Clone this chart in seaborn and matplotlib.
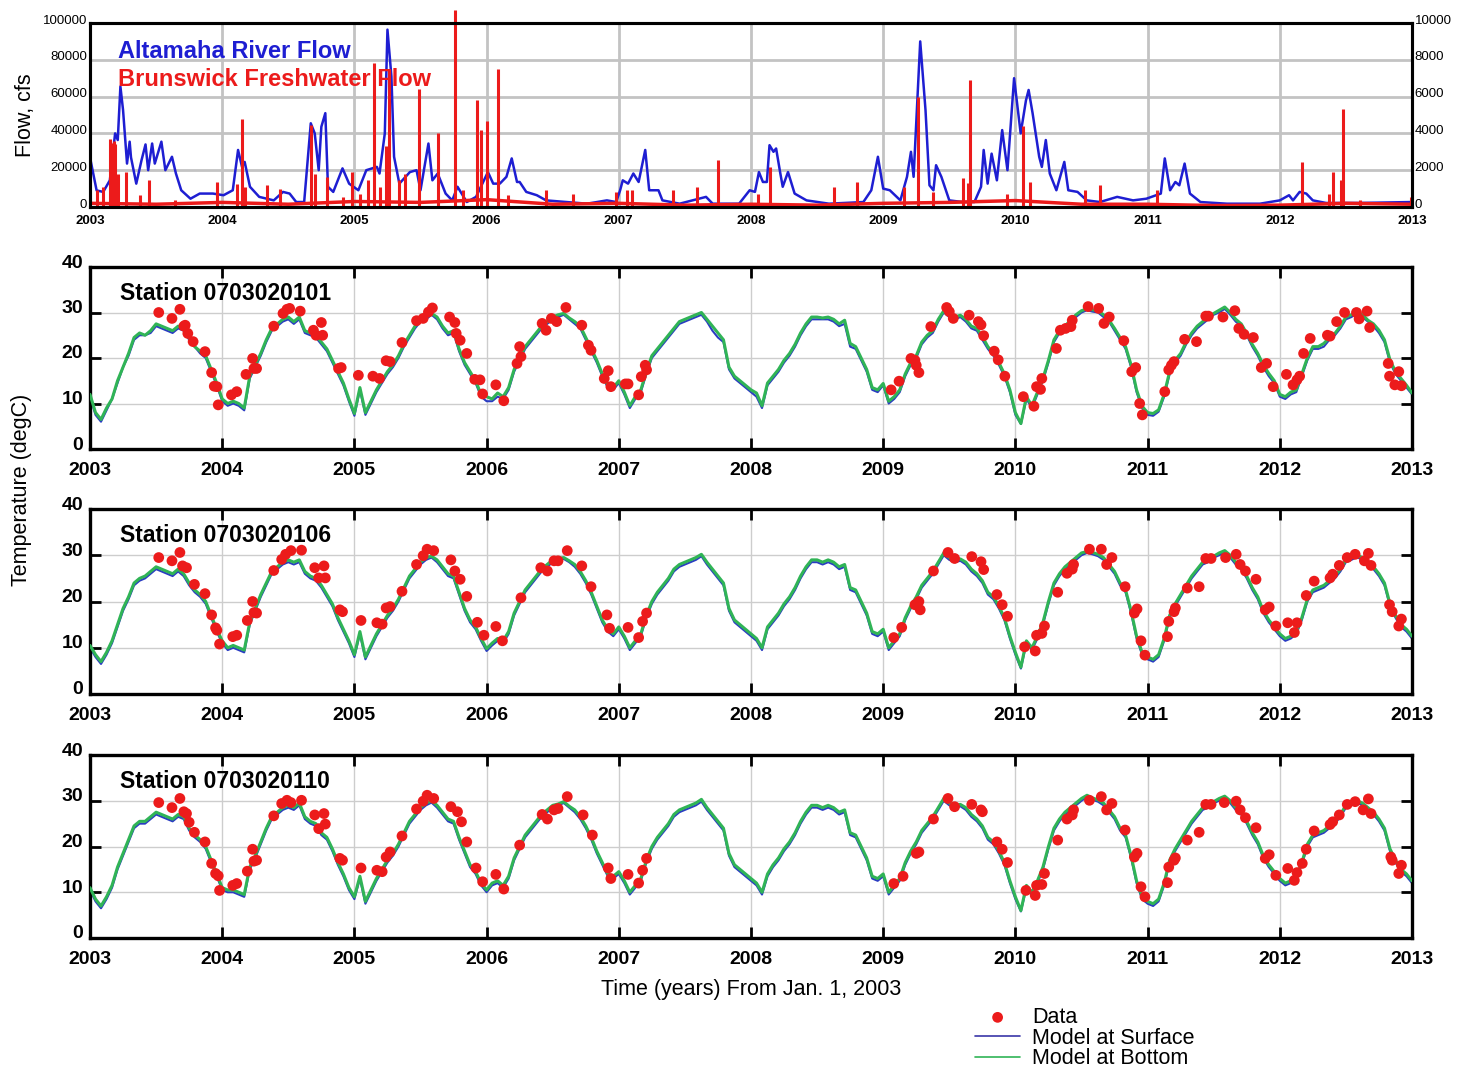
import numpy as np
import matplotlib
matplotlib.use("Agg")
import matplotlib.pyplot as plt
import matplotlib.transforms as mtransforms
import seaborn as sns

# ------------------------------------------------------------------ data
years = list(range(2003, 2014))
flow_ticks = [0, 20000, 40000, 60000, 80000, 100000]
brunswick_ticks = [0, 2000, 4000, 6000, 8000, 10000]
temp_ticks = [0, 10, 20, 30, 40]

# Altamaha River flow (cfs, left axis)
altamaha_dates = [
    2003.00, 2003.05, 2003.10, 2003.15, 2003.19, 2003.21, 2003.23, 2003.25, 2003.28, 2003.30, 2003.31, 2003.35, 2003.39,
    2003.42, 2003.44, 2003.47, 2003.49, 2003.54, 2003.57, 2003.62, 2003.65, 2003.69, 2003.76, 2003.83, 2003.93,
    2004.01, 2004.08, 2004.12, 2004.15, 2004.17, 2004.21, 2004.28, 2004.39, 2004.46, 2004.51, 2004.56, 2004.62, 2004.67,
    2004.70, 2004.73, 2004.75, 2004.78, 2004.80, 2004.84, 2004.91, 2004.96,
    2005.03, 2005.09, 2005.17, 2005.19, 2005.23, 2005.25, 2005.28, 2005.30, 2005.34, 2005.42, 2005.47, 2005.50, 2005.56,
    2005.59, 2005.63, 2005.69, 2005.74, 2005.78, 2005.85, 2005.92,
    2006.01, 2006.05, 2006.10, 2006.15, 2006.19, 2006.23, 2006.25, 2006.30, 2006.38, 2006.45, 2006.60, 2006.76, 2006.91, 2006.98,
    2007.01, 2007.03, 2007.07, 2007.11, 2007.15, 2007.20, 2007.23, 2007.30, 2007.33, 2007.46, 2007.66, 2007.71, 2007.91, 2007.99,
    2008.03, 2008.06, 2008.09, 2008.12, 2008.14, 2008.17, 2008.19, 2008.22, 2008.24, 2008.28, 2008.33, 2008.42, 2008.59,
    2008.85, 2008.91, 2008.96,
    2009.00, 2009.05, 2009.13, 2009.18, 2009.21, 2009.23, 2009.28, 2009.32, 2009.35, 2009.38, 2009.40, 2009.44, 2009.50,
    2009.60, 2009.69, 2009.74, 2009.76, 2009.79, 2009.82, 2009.86, 2009.90, 2009.94, 2009.99,
    2010.04, 2010.08, 2010.10, 2010.13, 2010.18, 2010.20, 2010.23, 2010.26, 2010.31, 2010.37, 2010.40, 2010.47, 2010.54,
    2010.64, 2010.77, 2010.89, 2010.99,
    2011.10, 2011.13, 2011.17, 2011.21, 2011.24, 2011.28, 2011.32, 2011.40, 2011.60, 2011.85,
    2012.00, 2012.07, 2012.10, 2012.15, 2012.20, 2012.25, 2012.35, 2012.60, 2013.00]
altamaha_flow = [
    27000, 9000, 8200, 14500, 40000, 36400, 65500, 52700, 23600, 35500, 27000, 12700, 25500,
    34000, 20000, 34500, 23600, 35500, 20000, 27300, 18200, 9100, 4500, 7300, 7300,
    6400, 9100, 31000, 21800, 24500, 11000, 5500, 3600, 8200, 7300, 2700, 2700, 45500,
    40000, 20000, 43600, 51000, 11000, 8200, 21000, 12700,
    9100, 20000, 21800, 18200, 40000, 96400, 71000, 27300, 12700, 19000, 20000, 9100, 34500,
    14500, 18200, 7300, 3600, 11000, 2700, 5500,
    19000, 12700, 12700, 16400, 26400, 13600, 13600, 8200, 6400, 3600, 2700, 1800, 3600, 2700,
    9100, 14500, 12700, 18200, 13600, 31000, 9100, 9100, 3600, 1800, 5500, 1800, 1800, 9100,
    8200, 19000, 13600, 13600, 33600, 30000, 31800, 19000, 11000, 19000, 7300, 3600, 1800,
    2700, 9100, 27300,
    10000, 9100, 3600, 16400, 30000, 16400, 90000, 52700, 11800, 9100, 22700, 16400, 3600,
    2700, 2700, 11000, 31000, 12700, 29000, 14500, 41800, 20000, 70000,
    40000, 58000, 63600, 51000, 27300, 21800, 36400, 18200, 9100, 24500, 9100, 8200, 3600,
    2700, 5500, 3600, 4500,
    7300, 26400, 9100, 13600, 11800, 23600, 7300, 2700, 1800, 1800,
    3600, 6400, 3600, 8200, 7300, 3600, 2200, 2200, 2700]

# Brunswick freshwater flow (cfs, right axis): storm spikes and base flow
brunswick_spike_dates = [
    2003.05, 2003.10, 2003.15, 2003.16, 2003.18, 2003.19, 2003.21, 2003.27, 2003.38, 2003.45, 2003.64, 2003.96,
    2004.11, 2004.15, 2004.17, 2004.34, 2004.44, 2004.67, 2004.70, 2004.79, 2004.91, 2004.98,
    2005.04, 2005.10, 2005.15, 2005.19, 2005.24, 2005.26, 2005.34, 2005.38, 2005.49, 2005.63, 2005.76, 2005.82, 2005.93, 2005.96,
    2006.00, 2006.09, 2006.16, 2006.45, 2006.65, 2006.98,
    2007.06, 2007.10, 2007.41, 2007.59, 2007.75,
    2008.05, 2008.14, 2008.63, 2008.80,
    2009.16, 2009.26, 2009.38, 2009.60, 2009.64, 2009.66, 2009.94,
    2010.06, 2010.11, 2010.53, 2010.64,
    2011.07,
    2012.17, 2012.37, 2012.40, 2012.46, 2012.48, 2012.61, 2012.99]
brunswick_spike_flow = [
    900, 1100, 3700, 3500, 3600, 3400, 1800, 1900, 640, 1450, 360, 1360,
    1270, 4800, 1100, 1180, 1000, 4450, 1800, 1640, 550, 1900,
    730, 1450, 7800, 1100, 3300, 7500, 1450, 1800, 6400, 4000, 10700, 900, 5800, 4200,
    4700, 7500, 640, 900, 730, 820,
    900, 900, 900, 1100, 2550,
    730, 2200, 1100, 1360,
    1100, 6000, 820, 1550, 1300, 6900, 730,
    4400, 1360, 900, 1180,
    900,
    2450, 730, 1900, 1450, 5300, 360, 550]
brunswick_base_dates = [2003.0, 2003.5, 2004.0, 2004.5, 2005.0, 2005.5, 2006.0, 2006.5, 2007.0, 2007.5, 2008.0,
                        2008.5, 2009.0, 2009.5, 2010.0, 2010.5, 2011.0, 2011.5, 2012.0, 2012.5, 2013.0]
brunswick_base_flow = [200, 150, 250, 150, 300, 250, 400, 150, 200, 100, 150,
                       100, 200, 250, 350, 150, 150, 80, 100, 200, 150]

# Model temperature (degC), semi-monthly from Jan. 1, 2003 (24 values per year)
st0101_bottom = [
    12.0, 8.0, 6.5, 9.0, 11.0, 15.0, 18.0, 21.0, 24.5, 25.5, 25.0, 26.0, 27.5, 27.0, 26.5, 26.0, 27.0, 26.5, 24.5, 22.5, 21.5, 20.5, 17.5, 14.5,
    11.0, 10.0, 10.5, 10.0, 9.0, 16.0, 18.5, 21.0, 24.0, 26.5, 27.5, 28.5, 29.0, 28.0, 29.0, 26.0, 25.5, 25.0, 23.5, 22.0, 19.5, 17.0, 14.5, 11.0,
    7.8, 13.5, 8.0, 10.5, 13.0, 15.0, 17.0, 18.5, 20.5, 23.0, 25.0, 27.0, 28.5, 29.0, 29.8, 29.0, 27.0, 25.5, 26.0, 22.0, 19.0, 17.0, 15.0, 12.0,
    11.5, 11.0, 12.3, 11.5, 13.5, 17.5, 20.0, 22.5, 24.0, 25.5, 27.0, 28.0, 29.0, 29.5, 29.8, 28.8, 28.0, 27.0, 24.5, 22.0, 19.5, 16.5, 14.0, 13.5,
    15.0, 12.5, 9.5, 11.5, 13.0, 17.0, 20.5, 22.0, 23.5, 25.0, 26.5, 28.0, 28.5, 29.0, 29.5, 30.0, 28.5, 27.0, 25.5, 24.0, 18.0, 16.0, 15.0, 14.0,
    13.0, 12.3, 9.5, 14.5, 16.0, 17.5, 19.5, 21.0, 23.0, 25.5, 27.5, 29.0, 29.0, 28.8, 29.0, 28.5, 27.5, 28.3, 23.2, 22.5, 20.0, 17.5, 13.5, 13.0,
    14.4, 10.5, 11.5, 13.0, 16.5, 19.0, 20.5, 23.5, 25.0, 26.0, 28.5, 30.4, 29.5, 29.0, 29.4, 28.5, 27.0, 26.5, 24.7, 22.5, 21.0, 19.0, 16.5, 13.0,
    8.0, 5.6, 11.5, 9.5, 12.5, 15.5, 19.5, 24.0, 26.0, 27.0, 28.3, 29.5, 30.4, 30.8, 30.6, 30.4, 29.5, 28.3, 26.5, 24.5, 22.5, 18.5, 13.0, 9.4,
    8.0, 7.8, 8.6, 12.0, 17.0, 19.5, 21.0, 23.5, 25.5, 27.0, 28.0, 29.0, 29.8, 30.5, 31.2, 30.0, 28.5, 27.5, 25.4, 23.0, 21.0, 18.5, 16.6, 15.0,
    12.0, 11.5, 12.5, 13.0, 16.5, 20.0, 22.5, 22.5, 23.2, 24.5, 25.4, 27.0, 29.0, 29.5, 30.1, 29.5, 28.3, 27.5, 26.1, 24.0, 19.6, 17.0, 15.5, 14.0,
    12.3]
st0101_surface = [
    11.5, 7.5, 6.0, 8.5, 11.0, 14.5, 18.0, 20.5, 24.0, 25.0, 25.0, 25.5, 27.0, 26.5, 26.0, 25.5, 26.5, 26.0, 24.0, 22.5, 21.0, 20.0, 17.0, 14.0,
    10.5, 9.5, 10.0, 9.5, 8.5, 15.5, 18.0, 20.5, 23.5, 26.0, 27.0, 28.0, 28.5, 27.5, 28.5, 25.5, 25.0, 24.5, 23.0, 21.5, 19.0, 16.5, 14.0, 10.5,
    7.3, 13.0, 7.5, 10.0, 12.5, 14.5, 16.5, 18.0, 20.0, 22.5, 24.5, 26.5, 28.0, 28.5, 29.5, 28.5, 26.5, 25.0, 25.5, 21.5, 18.5, 16.5, 14.5, 11.5,
    10.5, 10.5, 11.5, 11.0, 13.0, 17.0, 19.5, 22.0, 23.5, 25.0, 26.5, 27.5, 28.5, 29.0, 29.5, 28.5, 27.5, 26.5, 24.0, 21.5, 19.0, 16.0, 13.5, 13.0,
    14.5, 12.0, 9.0, 11.0, 12.5, 16.5, 20.0, 21.5, 23.0, 24.5, 26.0, 27.5, 28.0, 28.5, 29.0, 29.5, 28.0, 26.0, 24.5, 23.5, 17.5, 15.5, 14.5, 13.5,
    12.5, 11.5, 9.0, 14.0, 15.5, 17.0, 19.0, 20.5, 22.5, 25.0, 27.0, 28.5, 28.5, 28.5, 28.5, 28.0, 27.0, 27.5, 22.5, 22.0, 19.5, 17.0, 13.0, 12.5,
    14.0, 10.0, 11.0, 12.5, 16.0, 18.5, 20.0, 23.0, 24.5, 25.5, 28.0, 30.0, 29.0, 28.5, 29.0, 28.0, 26.5, 26.0, 24.0, 22.0, 20.5, 18.5, 16.0, 12.5,
    7.5, 5.5, 11.0, 9.0, 12.0, 15.0, 19.0, 23.5, 25.5, 26.5, 28.0, 29.0, 30.0, 30.5, 30.2, 30.0, 29.0, 28.0, 26.0, 24.0, 22.0, 18.0, 12.5, 9.0,
    7.5, 7.3, 8.2, 11.5, 16.5, 19.0, 20.5, 23.0, 25.0, 26.5, 27.5, 28.5, 29.5, 30.0, 30.8, 29.5, 28.0, 27.0, 25.0, 22.5, 20.5, 18.0, 16.0, 14.5,
    11.5, 11.0, 12.0, 12.5, 16.0, 19.5, 22.0, 22.0, 22.5, 24.0, 25.0, 26.5, 28.5, 29.0, 29.8, 29.0, 28.0, 27.0, 25.5, 23.5, 19.0, 16.5, 15.0, 13.5,
    12.0]
st0106_bottom = [
    10.5, 8.5, 7.0, 9.0, 11.5, 15.0, 18.5, 21.0, 24.0, 25.0, 25.5, 26.5, 27.5, 27.0, 26.5, 26.0, 27.0, 26.0, 24.0, 22.5, 21.5, 20.0, 17.0, 14.0,
    11.5, 10.0, 10.5, 10.0, 9.5, 15.5, 18.5, 21.5, 24.0, 26.5, 27.5, 28.5, 29.0, 28.5, 29.0, 26.5, 25.5, 25.0, 23.5, 21.5, 19.5, 16.5, 14.0, 11.5,
    8.5, 13.5, 8.0, 10.5, 13.0, 15.0, 17.0, 18.5, 20.5, 23.0, 25.5, 27.0, 28.5, 29.5, 29.8, 29.0, 27.5, 26.0, 25.5, 22.0, 18.5, 16.0, 14.5, 12.0,
    9.8, 11.0, 12.0, 11.5, 13.5, 17.5, 20.0, 22.5, 24.0, 25.5, 27.0, 28.0, 29.0, 29.3, 29.5, 28.8, 28.0, 26.5, 24.5, 22.0, 19.0, 16.0, 14.0, 13.0,
    14.5, 12.5, 10.0, 11.5, 13.0, 17.0, 20.0, 22.0, 23.5, 25.0, 27.0, 28.0, 28.5, 29.0, 29.5, 30.2, 28.5, 27.0, 25.5, 24.0, 18.5, 16.0, 15.0, 14.0,
    13.0, 12.0, 10.0, 14.5, 16.0, 17.5, 19.5, 21.0, 23.0, 25.5, 27.5, 29.0, 29.0, 28.5, 29.0, 28.5, 27.5, 28.0, 23.0, 22.5, 20.0, 17.5, 13.5, 13.0,
    14.0, 10.0, 11.5, 13.0, 16.5, 19.0, 21.0, 23.5, 25.0, 26.5, 28.5, 30.5, 29.5, 29.0, 29.2, 28.5, 27.0, 26.0, 24.5, 22.0, 21.0, 19.0, 16.5, 12.5,
    9.0, 5.8, 11.5, 10.0, 12.5, 15.5, 20.0, 24.0, 26.0, 27.5, 28.5, 29.5, 30.5, 30.8, 30.6, 30.2, 29.5, 28.0, 26.5, 24.0, 22.5, 18.0, 12.5, 9.0,
    8.0, 7.5, 8.5, 12.0, 17.0, 19.5, 21.5, 23.5, 25.5, 27.0, 28.5, 29.0, 29.8, 30.5, 31.0, 30.0, 28.5, 27.5, 25.5, 23.0, 21.0, 18.0, 16.0, 14.5,
    13.0, 12.0, 12.5, 13.5, 16.5, 20.5, 22.5, 23.0, 23.5, 24.5, 25.5, 27.0, 29.0, 29.5, 30.0, 29.5, 28.5, 27.5, 26.0, 24.0, 19.5, 17.0, 15.0, 14.0,
    12.5]
st0106_surface = [
    10.0, 8.0, 6.5, 8.5, 11.0, 14.5, 18.0, 20.5, 23.5, 24.5, 25.0, 26.0, 27.0, 26.5, 26.0, 25.5, 26.5, 25.5, 23.5, 22.0, 21.0, 19.5, 16.5, 13.5,
    11.0, 9.5, 10.0, 9.5, 9.0, 15.0, 18.0, 21.0, 23.5, 26.0, 27.0, 28.0, 28.5, 28.0, 28.5, 26.0, 25.0, 24.5, 23.0, 21.0, 19.0, 16.0, 13.5, 11.0,
    8.0, 13.0, 7.5, 10.0, 12.5, 14.5, 16.5, 18.0, 20.0, 22.5, 25.0, 26.5, 28.0, 29.0, 29.5, 28.5, 27.0, 25.5, 25.0, 21.5, 18.0, 15.5, 14.0, 11.5,
    9.3, 10.5, 11.5, 11.0, 13.0, 17.0, 19.5, 22.0, 23.5, 25.0, 26.5, 27.5, 28.5, 29.0, 29.2, 28.5, 27.5, 26.0, 24.0, 21.5, 18.5, 15.5, 13.5, 12.5,
    14.0, 12.0, 9.5, 11.0, 12.5, 16.5, 19.5, 21.5, 23.0, 24.5, 26.5, 27.5, 28.0, 28.5, 29.0, 29.8, 28.0, 26.5, 25.0, 23.5, 18.0, 15.5, 14.5, 13.5,
    12.5, 11.5, 9.5, 14.0, 15.5, 17.0, 19.0, 20.5, 22.5, 25.0, 27.0, 28.5, 28.5, 28.0, 28.5, 28.0, 27.0, 27.5, 22.5, 22.0, 19.5, 17.0, 13.0, 12.5,
    13.5, 9.5, 11.0, 12.5, 16.0, 18.5, 20.5, 23.0, 24.5, 26.0, 28.0, 30.0, 29.0, 28.5, 28.8, 28.0, 26.5, 25.5, 24.0, 21.5, 20.5, 18.5, 16.0, 12.0,
    8.5, 5.5, 11.0, 9.5, 12.0, 15.0, 19.5, 23.5, 25.5, 27.0, 28.0, 29.0, 30.0, 30.5, 30.2, 29.8, 29.0, 27.5, 26.0, 23.5, 22.0, 17.5, 12.0, 8.5,
    7.5, 7.0, 8.0, 11.5, 16.5, 19.0, 21.0, 23.0, 25.0, 26.5, 28.0, 28.5, 29.5, 30.0, 30.6, 29.5, 28.0, 27.0, 25.0, 22.5, 20.5, 17.5, 15.5, 14.0,
    12.5, 11.5, 12.0, 13.0, 16.0, 20.0, 22.0, 22.5, 23.0, 24.0, 25.0, 26.5, 28.5, 29.0, 29.6, 29.0, 28.0, 27.0, 25.5, 23.5, 19.0, 16.5, 14.5, 13.5,
    12.0]
st0110_bottom = [
    11.0, 8.5, 7.0, 9.0, 11.5, 15.5, 18.5, 21.5, 24.5, 25.5, 25.5, 26.5, 27.5, 27.0, 26.5, 26.0, 27.0, 26.5, 24.0, 22.5, 21.5, 20.0, 17.0, 14.0,
    11.0, 10.5, 10.5, 10.0, 9.5, 15.5, 18.0, 21.0, 24.0, 26.5, 27.5, 28.5, 29.0, 28.5, 29.5, 26.5, 25.5, 25.0, 23.0, 22.0, 19.5, 16.5, 14.0, 11.0,
    9.0, 13.5, 8.0, 10.5, 13.0, 15.0, 17.0, 18.5, 20.5, 23.0, 25.5, 27.0, 28.5, 29.5, 30.0, 29.0, 27.5, 26.0, 25.5, 22.0, 19.0, 16.0, 14.5, 12.0,
    10.5, 12.0, 12.5, 11.5, 13.5, 17.5, 20.0, 22.5, 24.0, 25.5, 27.0, 28.0, 29.0, 29.3, 29.8, 28.8, 28.0, 26.5, 24.5, 22.0, 19.0, 16.5, 14.0, 13.5,
    14.5, 12.5, 10.0, 11.5, 13.0, 17.0, 20.0, 22.0, 23.5, 25.0, 27.0, 28.0, 28.5, 29.0, 29.5, 30.3, 28.5, 27.0, 25.5, 24.0, 18.5, 16.0, 15.0, 14.0,
    13.0, 12.0, 10.0, 14.0, 16.0, 17.5, 19.5, 21.0, 23.0, 25.5, 27.5, 29.0, 29.0, 28.5, 29.0, 28.5, 27.5, 28.0, 23.0, 22.5, 20.0, 17.5, 13.5, 13.0,
    14.0, 10.0, 11.5, 13.0, 16.5, 19.0, 21.0, 23.5, 25.0, 26.5, 28.5, 30.5, 29.5, 29.0, 29.2, 28.5, 27.0, 26.0, 24.5, 22.0, 21.0, 19.0, 16.5, 12.5,
    9.0, 6.0, 11.5, 10.0, 12.5, 15.5, 20.0, 24.0, 26.0, 27.5, 28.5, 29.5, 30.5, 31.2, 30.6, 30.2, 29.5, 28.0, 26.5, 24.0, 22.5, 18.0, 12.5, 9.0,
    8.0, 7.5, 8.5, 12.0, 17.0, 19.5, 21.5, 23.5, 25.5, 27.0, 28.5, 29.0, 29.8, 30.5, 31.0, 30.0, 28.5, 27.5, 25.5, 23.0, 21.0, 18.0, 16.0, 14.5,
    13.0, 12.0, 12.5, 13.5, 16.5, 20.5, 22.5, 23.0, 23.5, 24.5, 25.5, 27.0, 29.0, 29.5, 30.0, 29.5, 28.5, 27.5, 26.0, 24.0, 19.5, 17.0, 15.0, 14.0,
    12.5]
st0110_surface = [
    10.5, 8.0, 6.5, 8.5, 11.0, 15.0, 18.0, 21.0, 24.0, 25.0, 25.0, 26.0, 27.0, 26.5, 26.0, 25.5, 26.5, 26.0, 23.5, 22.0, 21.0, 19.5, 16.5, 13.5,
    10.5, 10.0, 10.0, 9.5, 9.0, 15.0, 17.5, 20.5, 23.5, 26.0, 27.0, 28.0, 28.5, 28.0, 29.0, 26.0, 25.0, 24.5, 22.5, 21.5, 19.0, 16.0, 13.5, 10.5,
    8.5, 13.0, 7.5, 10.0, 12.5, 14.5, 16.5, 18.0, 20.0, 22.5, 25.0, 26.5, 28.0, 29.0, 29.6, 28.5, 27.0, 25.5, 25.0, 21.5, 18.5, 15.5, 14.0, 11.5,
    10.0, 11.5, 12.0, 11.0, 13.0, 17.0, 19.5, 22.0, 23.5, 25.0, 26.5, 27.5, 28.5, 29.0, 29.5, 28.5, 27.5, 26.0, 24.0, 21.5, 18.5, 16.0, 13.5, 13.0,
    14.0, 12.0, 9.5, 11.0, 12.5, 16.5, 19.5, 21.5, 23.0, 24.5, 26.5, 27.5, 28.0, 28.5, 29.0, 29.8, 28.0, 26.5, 25.0, 23.5, 18.0, 15.5, 14.5, 13.5,
    12.5, 11.5, 9.5, 13.5, 15.5, 17.0, 19.0, 20.5, 22.5, 25.0, 27.0, 28.5, 28.5, 28.0, 28.5, 28.0, 27.0, 27.5, 22.5, 22.0, 19.5, 17.0, 13.0, 12.5,
    13.5, 9.5, 11.0, 12.5, 16.0, 18.5, 20.5, 23.0, 24.5, 26.0, 28.0, 30.0, 29.0, 28.5, 28.8, 28.0, 26.5, 25.5, 24.0, 21.5, 20.5, 18.5, 16.0, 12.0,
    8.5, 5.8, 11.0, 9.5, 12.0, 15.0, 19.5, 23.5, 25.5, 27.0, 28.0, 29.0, 30.0, 30.8, 30.2, 29.8, 29.0, 27.5, 26.0, 23.5, 22.0, 17.5, 12.0, 8.5,
    7.5, 7.0, 8.0, 11.5, 16.5, 19.0, 21.0, 23.0, 25.0, 26.5, 28.0, 28.5, 29.5, 30.0, 30.6, 29.5, 28.0, 27.0, 25.0, 22.5, 20.5, 17.5, 15.5, 14.0,
    12.5, 11.5, 12.0, 13.0, 16.0, 20.0, 22.0, 22.5, 23.0, 24.0, 25.0, 26.5, 28.5, 29.0, 29.6, 29.0, 28.0, 27.0, 25.5, 23.5, 19.0, 16.5, 14.5, 13.5,
    12.0]

# Observed temperature data (degC)
st0101_obs_dates = [
    2003.52, 2003.62, 2003.68, 2003.71, 2003.72, 2003.74, 2003.78, 2003.87, 2003.92, 2003.94, 2003.96, 2003.97,
    2004.07, 2004.11, 2004.18, 2004.23, 2004.24, 2004.26, 2004.39, 2004.46, 2004.49, 2004.51, 2004.59, 2004.69, 2004.71, 2004.75, 2004.76, 2004.88, 2004.90,
    2005.03, 2005.14, 2005.19, 2005.24, 2005.27, 2005.36, 2005.47, 2005.52, 2005.56, 2005.59, 2005.72, 2005.76, 2005.77, 2005.80, 2005.85, 2005.91, 2005.95, 2005.97,
    2006.07, 2006.13, 2006.23, 2006.25, 2006.26, 2006.42, 2006.45, 2006.49, 2006.53, 2006.60, 2006.72, 2006.77, 2006.79, 2006.89, 2006.92, 2006.94,
    2007.05, 2007.07, 2007.15, 2007.17, 2007.20, 2007.21,
    2009.06, 2009.12, 2009.21, 2009.24, 2009.25, 2009.27, 2009.36, 2009.48, 2009.50, 2009.53, 2009.65, 2009.72, 2009.74, 2009.76, 2009.84, 2009.87, 2009.92,
    2010.06, 2010.14, 2010.16, 2010.19, 2010.20, 2010.31, 2010.34, 2010.38, 2010.42, 2010.43, 2010.55, 2010.63, 2010.67, 2010.71, 2010.82, 2010.88, 2010.91, 2010.94, 2010.96,
    2011.13, 2011.16, 2011.18, 2011.20, 2011.28, 2011.37, 2011.44, 2011.46, 2011.57, 2011.66, 2011.69, 2011.73, 2011.80, 2011.86, 2011.90, 2011.95,
    2012.05, 2012.10, 2012.13, 2012.15, 2012.18, 2012.23, 2012.36, 2012.38, 2012.43, 2012.49, 2012.58, 2012.60, 2012.66, 2012.68, 2012.82, 2012.83, 2012.87, 2012.90, 2012.92]
st0101_obs_temp = [
    30.0, 28.7, 30.7, 27.0, 27.2, 25.4, 23.6, 21.4, 16.8, 13.8, 13.7, 9.7,
    11.9, 12.6, 16.4, 19.9, 17.7, 17.7, 27.0, 29.8, 30.7, 30.9, 30.3, 26.1, 25.0, 27.8, 25.0, 17.7, 17.9,
    16.2, 16.0, 15.5, 19.4, 19.2, 23.4, 28.2, 28.7, 30.1, 31.0, 29.0, 27.8, 25.4, 23.9, 21.0, 15.3, 15.2, 12.1,
    14.1, 10.6, 18.8, 22.5, 20.3, 27.6, 26.1, 28.7, 28.0, 31.1, 27.2, 22.8, 21.7, 15.5, 17.2, 13.7,
    14.3, 14.3, 11.9, 15.9, 18.4, 17.4,
    13.0, 14.9, 19.9, 19.5, 18.4, 16.8, 26.9, 31.1, 30.2, 28.7, 29.4, 28.0, 27.3, 24.9, 21.5, 19.6, 16.0,
    11.5, 9.4, 13.7, 13.1, 15.5, 22.1, 26.1, 26.5, 26.9, 28.3, 31.3, 30.9, 27.6, 29.0, 23.8, 17.0, 17.9, 10.0, 7.5,
    12.6, 17.4, 18.4, 19.2, 24.1, 23.6, 29.2, 29.2, 29.0, 30.4, 26.5, 25.2, 24.5, 17.9, 18.8, 13.7,
    16.4, 14.1, 15.2, 16.0, 21.0, 24.3, 25.0, 24.8, 28.0, 30.0, 30.0, 28.6, 30.3, 26.7, 18.8, 16.0, 14.1, 17.0, 13.9]

st0106_obs_dates = [
    2003.52, 2003.62, 2003.68, 2003.70, 2003.73, 2003.79, 2003.87, 2003.92, 2003.95, 2003.96, 2003.98,
    2004.08, 2004.11, 2004.19, 2004.23, 2004.24, 2004.26, 2004.39, 2004.45, 2004.48, 2004.52, 2004.60, 2004.70, 2004.73, 2004.77, 2004.78, 2004.89, 2004.91,
    2005.05, 2005.17, 2005.21, 2005.24, 2005.27, 2005.36, 2005.47, 2005.52, 2005.55, 2005.60, 2005.73, 2005.76, 2005.80, 2005.85, 2005.93, 2005.98,
    2006.07, 2006.12, 2006.26, 2006.41, 2006.46, 2006.51, 2006.54, 2006.61, 2006.72, 2006.79, 2006.91, 2006.93,
    2007.07, 2007.15, 2007.18, 2007.21,
    2009.08, 2009.14, 2009.24, 2009.27, 2009.28, 2009.38, 2009.49, 2009.54, 2009.67, 2009.74, 2009.76, 2009.86, 2009.90, 2009.94,
    2010.07, 2010.15, 2010.16, 2010.20, 2010.22, 2010.32, 2010.39, 2010.43, 2010.44, 2010.56, 2010.65, 2010.69, 2010.73, 2010.83, 2010.90, 2010.92, 2010.95, 2010.98,
    2011.15, 2011.16, 2011.20, 2011.21, 2011.30, 2011.39, 2011.44, 2011.48, 2011.59, 2011.67, 2011.70, 2011.74, 2011.82, 2011.89, 2011.92, 2011.97,
    2012.06, 2012.11, 2012.13, 2012.20, 2012.26, 2012.38, 2012.40, 2012.45, 2012.51, 2012.57, 2012.64, 2012.67, 2012.69, 2012.83, 2012.85, 2012.90, 2012.92]
st0106_obs_temp = [
    29.5, 28.8, 30.6, 27.7, 27.3, 23.7, 21.7, 17.1, 14.3, 13.8, 10.8,
    12.4, 12.7, 15.9, 20.0, 17.6, 17.5, 26.7, 29.1, 30.2, 31.0, 31.1, 27.3, 25.1, 27.7, 25.1, 18.2, 17.8,
    15.9, 15.4, 15.1, 18.6, 18.9, 22.2, 28.0, 29.9, 31.3, 31.0, 29.0, 26.6, 24.8, 21.1, 15.5, 12.7,
    14.6, 11.5, 20.8, 27.3, 26.6, 28.8, 28.8, 31.0, 27.7, 23.2, 17.1, 14.2,
    14.4, 12.2, 15.7, 17.5,
    12.2, 14.4, 19.3, 20.0, 18.2, 26.6, 30.6, 29.3, 29.7, 28.6, 26.9, 21.5, 19.3, 16.8,
    10.2, 9.3, 12.7, 13.1, 14.7, 22.0, 26.1, 27.0, 28.0, 31.3, 31.3, 28.0, 29.5, 23.2, 17.5, 18.4, 11.5, 8.4,
    12.4, 15.7, 17.8, 18.6, 22.9, 23.2, 29.3, 29.3, 29.5, 30.2, 28.0, 26.6, 24.8, 18.2, 18.8, 14.7,
    15.4, 13.3, 15.4, 21.3, 24.4, 25.1, 25.9, 27.8, 29.5, 30.2, 28.8, 30.4, 27.8, 19.3, 17.8, 14.7, 16.2]

st0110_obs_dates = [
    2003.52, 2003.62, 2003.68, 2003.71, 2003.73, 2003.75, 2003.79, 2003.87, 2003.92, 2003.95, 2003.97, 2003.98,
    2004.08, 2004.11, 2004.19, 2004.23, 2004.24, 2004.26, 2004.39, 2004.45, 2004.49, 2004.52, 2004.60, 2004.70, 2004.73, 2004.77, 2004.78, 2004.89, 2004.91,
    2005.05, 2005.17, 2005.21, 2005.24, 2005.27, 2005.36, 2005.47, 2005.52, 2005.55, 2005.60, 2005.73, 2005.78, 2005.81, 2005.85, 2005.92, 2005.97,
    2006.07, 2006.13, 2006.25, 2006.42, 2006.46, 2006.51, 2006.54, 2006.61, 2006.73, 2006.80, 2006.92, 2006.94,
    2007.07, 2007.15, 2007.18, 2007.21,
    2009.08, 2009.15, 2009.25, 2009.27, 2009.38, 2009.49, 2009.54, 2009.67, 2009.74, 2009.75, 2009.86, 2009.90, 2009.94,
    2010.08, 2010.15, 2010.16, 2010.20, 2010.22, 2010.32, 2010.39, 2010.43, 2010.44, 2010.56, 2010.65, 2010.69, 2010.73, 2010.83, 2010.90, 2010.92, 2010.95, 2010.98,
    2011.15, 2011.16, 2011.20, 2011.21, 2011.30, 2011.39, 2011.44, 2011.48, 2011.58, 2011.67, 2011.70, 2011.74, 2011.82, 2011.89, 2011.92, 2011.97,
    2012.06, 2012.11, 2012.13, 2012.17, 2012.20, 2012.26, 2012.38, 2012.40, 2012.45, 2012.51, 2012.57, 2012.63, 2012.67, 2012.69, 2012.84, 2012.85, 2012.90, 2012.92]
st0110_obs_temp = [
    29.6, 28.5, 30.5, 27.6, 27.2, 25.3, 23.1, 21.0, 16.3, 14.1, 13.6, 10.4,
    11.5, 11.9, 14.6, 19.4, 16.8, 17.0, 26.7, 29.4, 30.1, 29.6, 30.1, 26.9, 23.9, 27.2, 24.9, 17.4, 17.0,
    15.3, 14.8, 14.5, 17.7, 18.8, 22.3, 28.2, 29.9, 31.2, 30.5, 28.7, 27.6, 25.4, 21.0, 15.3, 12.3,
    13.9, 10.7, 20.3, 27.0, 26.0, 28.0, 28.3, 30.9, 26.9, 22.5, 15.3, 13.0,
    13.9, 12.0, 14.8, 17.4,
    11.9, 13.5, 18.5, 18.8, 26.0, 30.5, 28.7, 29.2, 28.0, 27.6, 21.0, 19.4, 16.5,
    10.4, 9.3, 11.5, 11.7, 14.1, 21.4, 26.0, 26.9, 28.0, 30.1, 30.9, 28.0, 29.4, 23.6, 17.7, 18.5, 11.2, 9.0,
    12.1, 15.5, 17.0, 17.5, 21.4, 23.1, 29.2, 29.2, 29.6, 29.9, 28.0, 26.3, 24.1, 17.4, 18.2, 13.7,
    15.2, 12.6, 14.3, 16.3, 19.4, 23.4, 24.8, 25.4, 26.9, 29.2, 29.8, 28.0, 30.4, 27.2, 17.7, 17.0, 14.1, 15.9]

for arr in (st0101_bottom, st0101_surface, st0106_bottom, st0106_surface, st0110_bottom, st0110_surface):
    assert len(arr) == 241, len(arr)
model_dates = 2003 + np.arange(241) / 24.0   # semi-monthly model output times

# ------------------------------------------------------------------ style
sns.set_theme(style="white", rc={"text.color": "black", "axes.labelcolor": "black",
                                 "xtick.color": "black", "ytick.color": "black",
                                 "axes.edgecolor": "black"})
plt.rcParams["font.family"] = ["Liberation Sans", "DejaVu Sans"]

RED = "#ec1b1b"
FLOW_BLUE = "#1e1ed2"
SURF_BLUE = "#2a3cc2"
BOT_GREEN = "#30b456"

W, H = 1462, 1071
fig = plt.figure(figsize=(W / 100, H / 100), dpi=100)


def rect(l, t, r, b):
    return [l / W, 1 - b / H, (r - l) / W, (b - t) / H]


def shift_up(labels, px):
    off = mtransforms.ScaledTranslation(0, px / 100.0, fig.dpi_scale_trans)
    for lab in labels:
        lab.set_transform(lab.get_transform() + off)


# ------------------------------------------------------------------ flow panel
axf = fig.add_axes(rect(90, 23, 1412, 207))
sns.lineplot(x=altamaha_dates, y=altamaha_flow, ax=axf, color=FLOW_BLUE, linewidth=1.8,
             estimator=None, sort=False, legend=False)
axf.set_xlim(2003, 2013)
axf.set_ylim(0, 100000)
axf.set_xticks(years)
axf.set_xticklabels([str(y) for y in years], fontsize=9.5, fontweight="bold")
axf.set_yticks(flow_ticks)
axf.set_yticklabels([str(v) for v in flow_ticks], fontsize=9.5)
axf.grid(True, color="#c3c3c3", linewidth=2.0)
axf.set_axisbelow(True)
axf.tick_params(axis="x", length=0, pad=6)
axf.tick_params(axis="y", length=0, pad=2)
axf.set_ylabel("Flow, cfs", fontsize=15.5)
axf.yaxis.set_label_coords(-0.041, 0.5)

axr = axf.twinx()
sns.lineplot(x=brunswick_base_dates, y=brunswick_base_flow, ax=axr, color=RED, linewidth=2.5,
             estimator=None, legend=False)
spikes = axr.vlines(brunswick_spike_dates, 0, brunswick_spike_flow, color=RED, linewidth=2.2)
spikes.set_clip_on(False)
axr.set_ylim(0, 10000)
axr.set_xlim(2003, 2013)
axr.set_yticks(brunswick_ticks)
axr.set_yticklabels([str(v) for v in brunswick_ticks], fontsize=9.5)
axr.set_ylabel("")
axr.tick_params(axis="y", length=0, pad=2)
axr.grid(False)
for a in (axf, axr):
    for s in a.spines.values():
        s.set_color("black")
        s.set_linewidth(2.2)
shift_up(axf.get_yticklabels(), 4)
shift_up(axr.get_yticklabels(), 4)

leg_flow = axr.legend(handles=[axf.lines[0], axr.lines[0]],
                      labels=["Altamaha River Flow", "Brunswick Freshwater Flow"],
                      loc="upper left", bbox_to_anchor=(0.0215, 0.91), frameon=False,
                      handlelength=0, handletextpad=0, borderpad=0, borderaxespad=0,
                      labelspacing=0.25, labelcolor="linecolor",
                      prop={"weight": "bold", "size": 17})
leg_flow.set_zorder(1)

# ------------------------------------------------------------------ temperature panels
stations = [
    ("Station 0703020101", st0101_surface, st0101_bottom, st0101_obs_dates, st0101_obs_temp, 267, 449),
    ("Station 0703020106", st0106_surface, st0106_bottom, st0106_obs_dates, st0106_obs_temp, 509, 694),
    ("Station 0703020110", st0110_surface, st0110_bottom, st0110_obs_dates, st0110_obs_temp, 755, 938),
]
temp_axes = []
for title, surf, bot, od, ot, top, bottom in stations:
    ax = fig.add_axes(rect(90, top, 1412, bottom))
    sns.lineplot(x=model_dates, y=surf, ax=ax, color=SURF_BLUE, linewidth=1.5,
                 estimator=None, legend=False, zorder=2)
    sns.lineplot(x=model_dates, y=bot, ax=ax, color=BOT_GREEN, linewidth=2.2,
                 estimator=None, legend=False, zorder=3)
    sns.scatterplot(x=od, y=ot, ax=ax, color=RED, s=60, edgecolor="none", linewidth=0,
                    zorder=4, legend=False)
    ax.set_xlim(2003, 2013)
    ax.set_ylim(0, 40)
    ax.set_xticks(years)
    ax.set_xticklabels([str(y) for y in years], fontsize=14, fontweight="bold")
    ax.set_yticks(temp_ticks)
    ax.set_yticklabels([str(v) for v in temp_ticks], fontsize=14, fontweight="bold")
    ax.grid(True, color="#cdcdcd", linewidth=1.0)
    ax.set_axisbelow(True)
    ax.tick_params(axis="both", direction="in", length=8, width=2, color="black",
                   top=True, right=True, bottom=True, left=True)
    ax.tick_params(axis="x", pad=9)
    ax.tick_params(axis="y", pad=5)
    ax.set_xlabel("")
    ax.set_ylabel("")
    for s in ax.spines.values():
        s.set_color("black")
        s.set_linewidth(2.4)
    shift_up(ax.get_yticklabels(), 6)
    ax.text(0.0225, 0.857, title, transform=ax.transAxes, fontsize=16.5, fontweight="bold",
            ha="left", va="center", color="black")
    temp_axes.append(ax)

temp_axes[-1].set_xlabel("Time (years) From Jan. 1, 2003", fontsize=15.5, labelpad=8)
fig.text(22 / W, 1 - 490 / H, "Temperature (degC)", rotation=90, fontsize=15.5,
         ha="center", va="center")

last = temp_axes[-1]
leg = fig.legend(handles=[last.collections[0], last.lines[0], last.lines[1]],
                 labels=["Data", "Model at Surface", "Model at Bottom"],
                 loc="upper left", bbox_to_anchor=(975 / W, 1 - 1007 / H), frameon=False,
                 fontsize=15.5, handlelength=2.1, handletextpad=0.55, labelspacing=-0.02,
                 borderpad=0, borderaxespad=0)
for h in leg.legend_handles[1:]:
    h.set_linewidth(1.2)
leg.legend_handles[1].set_color("#3a36a8")

fig.savefig("out.png", dpi=100)
